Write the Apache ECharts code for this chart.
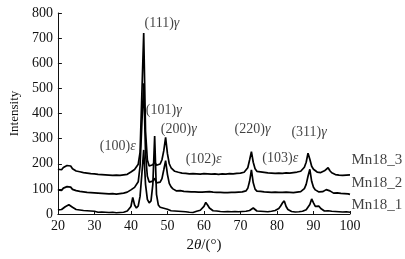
<!DOCTYPE html>
<html><head><meta charset="utf-8">
<script src="https://cdn.jsdelivr.net/npm/echarts@6/dist/echarts.min.js"></script>
<style>html,body{margin:0;padding:0;background:#fff}#c{width:405px;height:259px}</style>
</head><body><div id="c"></div>
<script>
const angles = [20,20.5,21,21.5,22,22.5,23,23.5,24,24.5,25,25.5,26,26.5,27,27.5,28,28.5,29,29.5,
30,30.5,31,31.5,32,32.5,33,33.5,34,34.5,35,35.5,36,36.5,37,37.5,38,38.5,39,39.5,
40,40.5,41,41.5,42,42.5,43,43.5,44,44.5,45,45.5,46,46.5,47,47.5,48,48.5,49,49.5,
50,50.5,51,51.5,52,52.5,53,53.5,54,54.5,55,55.5,56,56.5,57,57.5,58,58.5,59,59.5,
60,60.5,61,61.5,62,62.5,63,63.5,64,64.5,65,65.5,66,66.5,67,67.5,68,68.5,69,69.5,
70,70.5,71,71.5,72,72.5,73,73.5,74,74.5,75,75.5,76,76.5,77,77.5,78,78.5,79,79.5,
80,80.5,81,81.5,82,82.5,83,83.5,84,84.5,85,85.5,86,86.5,87,87.5,88,88.5,89,89.5,
90,90.5,91,91.5,92,92.5,93,93.5,94,94.5,95,95.5,96,96.5,97,97.5,98,98.5,99,99.5,100];

const mn18_1 = [16,21,18,25,29,35,37,31,27,20,18,13,16,11,14,9,13,8,12,17,
11,14,7,11,8,12,7,10,6,11,7,10,5,9,6,10,7,11,12,17,
30,66,36,24,32,70,160,255,118,58,44,52,118,310,78,36,27,21,23,27,
19,15,13,10,12,8,11,7,10,6,9,12,7,10,6,9,11,13,15,20,
30,46,36,24,17,13,10,12,7,10,6,9,7,10,5,9,6,10,7,9,
6,10,8,11,10,14,18,24,17,12,9,11,7,10,6,9,7,11,10,14,
16,22,32,44,52,30,18,13,10,12,8,11,9,12,11,14,17,24,38,60,
44,30,27,31,22,16,12,10,13,9,11,7,10,6,9,5,8,6,9,5,7];

const mn18_2 = [96,101,94,103,105,109,102,107,98,101,93,97,90,95,88,92,86,91,85,90,
84,88,83,87,82,86,81,86,80,85,81,84,79,85,81,86,83,88,87,92,
96,103,106,113,128,190,360,520,240,150,127,122,131,142,124,120,127,141,176,212,
158,122,108,100,95,92,89,93,86,90,85,89,84,88,83,88,84,87,82,87,
84,88,85,89,83,87,82,86,81,86,82,85,80,85,82,86,81,86,83,87,
84,88,87,92,102,130,176,124,99,91,87,90,84,88,83,87,82,86,83,87,
82,86,81,86,83,87,82,86,81,85,83,87,85,89,92,101,118,150,178,130,
106,96,91,88,86,89,91,97,104,92,86,83,80,84,79,82,78,81,77,80,78];

const mn18_3 = [178,183,176,185,189,193,186,191,180,177,171,176,168,173,165,170,163,168,161,166,
160,165,158,163,157,162,156,162,155,160,154,159,155,161,154,158,156,161,158,164,
167,172,177,184,198,245,480,720,330,215,191,187,196,207,194,192,199,216,252,305,
240,200,184,177,170,173,166,169,163,168,162,166,160,165,161,166,160,164,159,165,
161,166,160,165,159,164,160,165,158,163,160,164,159,165,161,166,160,165,162,167,
163,168,166,172,184,215,248,206,180,170,165,168,161,166,159,164,158,163,157,162,
158,163,157,162,158,164,159,163,160,165,162,167,165,170,175,186,206,242,218,190,
178,172,167,170,165,169,172,178,184,172,164,160,157,161,155,159,154,158,155,158,156];

const peakNames = ['(111)','(101)','(200)','(220)','(311)','(100)','(102)','(103)'];
const peakPhase = ['γ','γ','γ','γ','γ','ε','ε','ε'];
const peakAngle = [48.5,49.0,53.1,73.3,88.8,36.4,59.9,80.9];
const peakLevel = [759,414,338,338,326,268,219,223];

const sampleNames = ['Mn18_3','Mn18_2','Mn18_1'];
const sampleLevel = [213,123,37];

const FONT = 'Liberation Serif';
const chart = echarts.init(document.getElementById('c'), null, {renderer:'canvas'});

function lineSeries(name, vals){
  return {
    name, type:'line', showSymbol:false, animation:false, silent:true,
    data: angles.map((a,i)=>[a, vals[i]]),
    lineStyle:{color:'#000', width:1.7}, clip:true
  };
}

chart.setOption({
  animation:false,
  backgroundColor:'#fff',
  grid:{left:57, right:55, top:13, bottom:45},
  xAxis:{
    type:'value', min:20, max:100, interval:10,
    name:'2{t|θ}/(°)', nameLocation:'middle', nameGap:21,
    nameTextStyle:{fontFamily:FONT, fontSize:15, color:'#111',
      rich:{t:{fontFamily:FONT, fontSize:15, fontStyle:'italic', color:'#111'}}},
    axisLine:{show:true, lineStyle:{color:'#111', width:1}},
    axisTick:{show:true, inside:true, length:3, lineStyle:{color:'#111'}},
    axisLabel:{fontFamily:FONT, fontSize:14, color:'#111', margin:5},
    splitLine:{show:false}
  },
  yAxis:{
    type:'value', min:0, max:800, interval:100,
    name:'Intensity', nameLocation:'middle', nameGap:33, nameRotate:90,
    nameTextStyle:{fontFamily:FONT, fontSize:13, color:'#111'},
    axisLine:{show:true, lineStyle:{color:'#111', width:1}},
    axisTick:{show:true, inside:true, length:4, lineStyle:{color:'#111'}},
    axisLabel:{fontFamily:FONT, fontSize:14, color:'#111', margin:5},
    splitLine:{show:false}
  },
  series:[
    lineSeries('Mn18_1', mn18_1),
    lineSeries('Mn18_2', mn18_2),
    lineSeries('Mn18_3', mn18_3),
    {
      type:'scatter', silent:true, clip:false, symbolSize:1,
      itemStyle:{color:'transparent'},
      data: peakAngle.map((x,i)=>[x, peakLevel[i]]),
      label:{show:true, position:'inside', color:'#111', fontFamily:FONT, fontSize:14,
        formatter:p=>peakNames[p.dataIndex]+'{g|'+peakPhase[p.dataIndex]+'}',
        rich:{g:{fontFamily:FONT, fontSize:14, fontStyle:'italic', color:'#111'}}}
    },
    {
      type:'scatter', silent:true, clip:false, symbolSize:1,
      itemStyle:{color:'transparent'},
      data: sampleLevel.map(v=>[100, v]),
      label:{show:true, position:'right', distance:1, color:'#111', fontFamily:FONT, fontSize:15,
        formatter:p=>sampleNames[p.dataIndex]}
    }
  ]
});
</script>
</body></html>
